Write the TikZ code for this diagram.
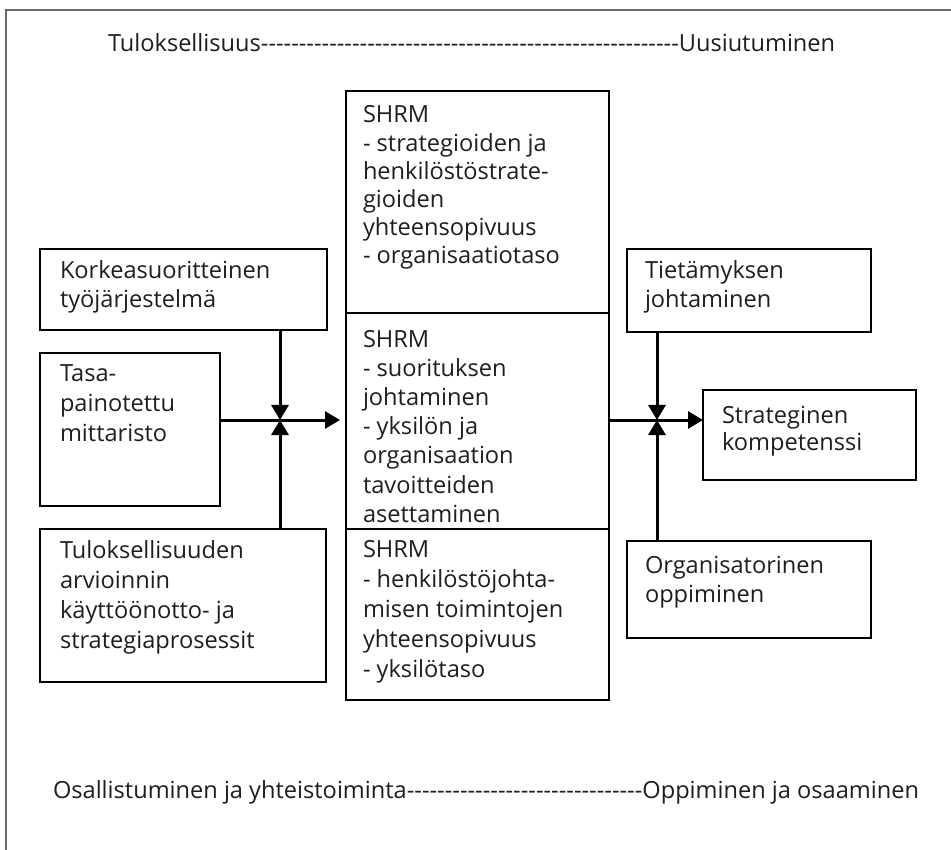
\documentclass[tikz,border=0pt]{standalone}
\usepackage{fontspec}
\setmainfont{Open Sans}[Ligatures=TeXOff]
\usetikzlibrary{arrows.meta,calc}
\definecolor{textgray}{HTML}{1E1E1E}
\definecolor{framegray}{HTML}{6A6A6A}
% strut that fixes the height of the first line of every label
\newcommand\lnstrut{\rule{0pt}{20pt}}
\begin{document}
\begin{tikzpicture}[x=1pt,y=-1pt,
  box/.style={draw=black, line width=1.8pt, inner sep=0pt, outer sep=0pt, anchor=north west},
  lbl/.style={anchor=north west, inner sep=0pt, outer sep=0pt, align=left, text=textgray,
              font=\fontsize{23.6}{#1}\selectfont},
  lbl/.default=29,
  conn/.style={line width=3pt, -{Triangle[length=15pt,width=17pt]}},
  frame/.style={draw=framegray, line width=2pt}
]
\useasboundingbox (0,0) rectangle (951,850);

% open frame: top and left edges only
\draw[frame] (6,850) -- (6,10) -- (951,10);

% axis captions
\node[lbl] (toptitle) at (108,32) {\lnstrut Tuloksellisuus-------------------------------------------------------Uusiutuminen};
\node[lbl] (bottitle) at (53,778) {\lnstrut Osallistuminen ja yhteistoiminta-------------------------------Oppiminen ja osaaminen};

% left column
\node[box, minimum width=287pt, minimum height=81pt] (hpws) at (40,249) {};
\node[lbl=29] (hpwstxt) at (60,259) {\lnstrut Korkeasuoritteinen\\ työjärjestelmä};

\node[box, minimum width=180pt, minimum height=153pt] (bsc) at (40,353) {};
\node[lbl=29.5] (bsctxt) at (60,362) {\lnstrut Tasa-\\ painotettu\\ mittaristo};

\node[box, minimum width=286pt, minimum height=153pt] (perf) at (40,529) {};
\node[lbl=30] (perftxt) at (60,538) {\lnstrut Tuloksellisuuden\\ arvioinnin\\ käyttöönotto- ja\\ strategiaprosessit};

% central SHRM column
\node[box, minimum width=263pt, minimum height=222pt] (shrma) at (346,91) {};
\node[lbl=28.2] (shrmatxt) at (363,103) {\lnstrut SHRM\\ - strategioiden ja\\ henkilöstöstrate-\\ gioiden\\ yhteensopivuus\\ - organisaatiotaso};

\node[box, minimum width=263pt, minimum height=216pt] (shrmb) at (346,313) {};
\node[lbl=29.2] (shrmbtxt) at (363,327) {\lnstrut SHRM\\ - suorituksen\\ johtaminen\\ - yksilön ja\\ organisaation\\ tavoitteiden\\ asettaminen};

\node[box, minimum width=263pt, minimum height=171pt] (shrmc) at (346,529) {};
\node[lbl=30] (shrmctxt) at (363,537) {\lnstrut SHRM\\ - henkilöstöjohta-\\ misen toimintojen\\ yhteensopivuus\\ - yksilötaso};

% right column
\node[box, minimum width=244pt, minimum height=83pt] (know) at (627,249) {};
\node[lbl=29] (knowtxt) at (645,259) {\lnstrut Tietämyksen\\ johtaminen};

\node[box, minimum width=213pt, minimum height=90pt] (comp) at (703,390) {};
\node[lbl=27.5] (comptxt) at (722,403) {\lnstrut Strateginen\\ kompetenssi};

\node[box, minimum width=244pt, minimum height=97pt] (learn) at (627,541) {};
\node[lbl=29] (learntxt) at (645,553) {\lnstrut Organisatorinen\\ oppiminen};

% junctions where the arrows meet
\coordinate (jl) at (280,420);
\coordinate (jr) at (657,420);

% left arrows
\draw[conn] (jl |- hpws.south) -- (jl);
\draw[conn] (jl |- perf.north) -- (jl);
\draw[conn, shorten >=6pt] (bsc.east |- jl) -- (shrmb.west |- jl);

% right arrows
\draw[conn] (jr |- know.south) -- (jr);
\draw[conn] (jr |- learn.north) -- (jr);
\draw[conn] (shrmb.east |- jr) -- (comp.west |- jr);
\end{tikzpicture}
\end{document}
